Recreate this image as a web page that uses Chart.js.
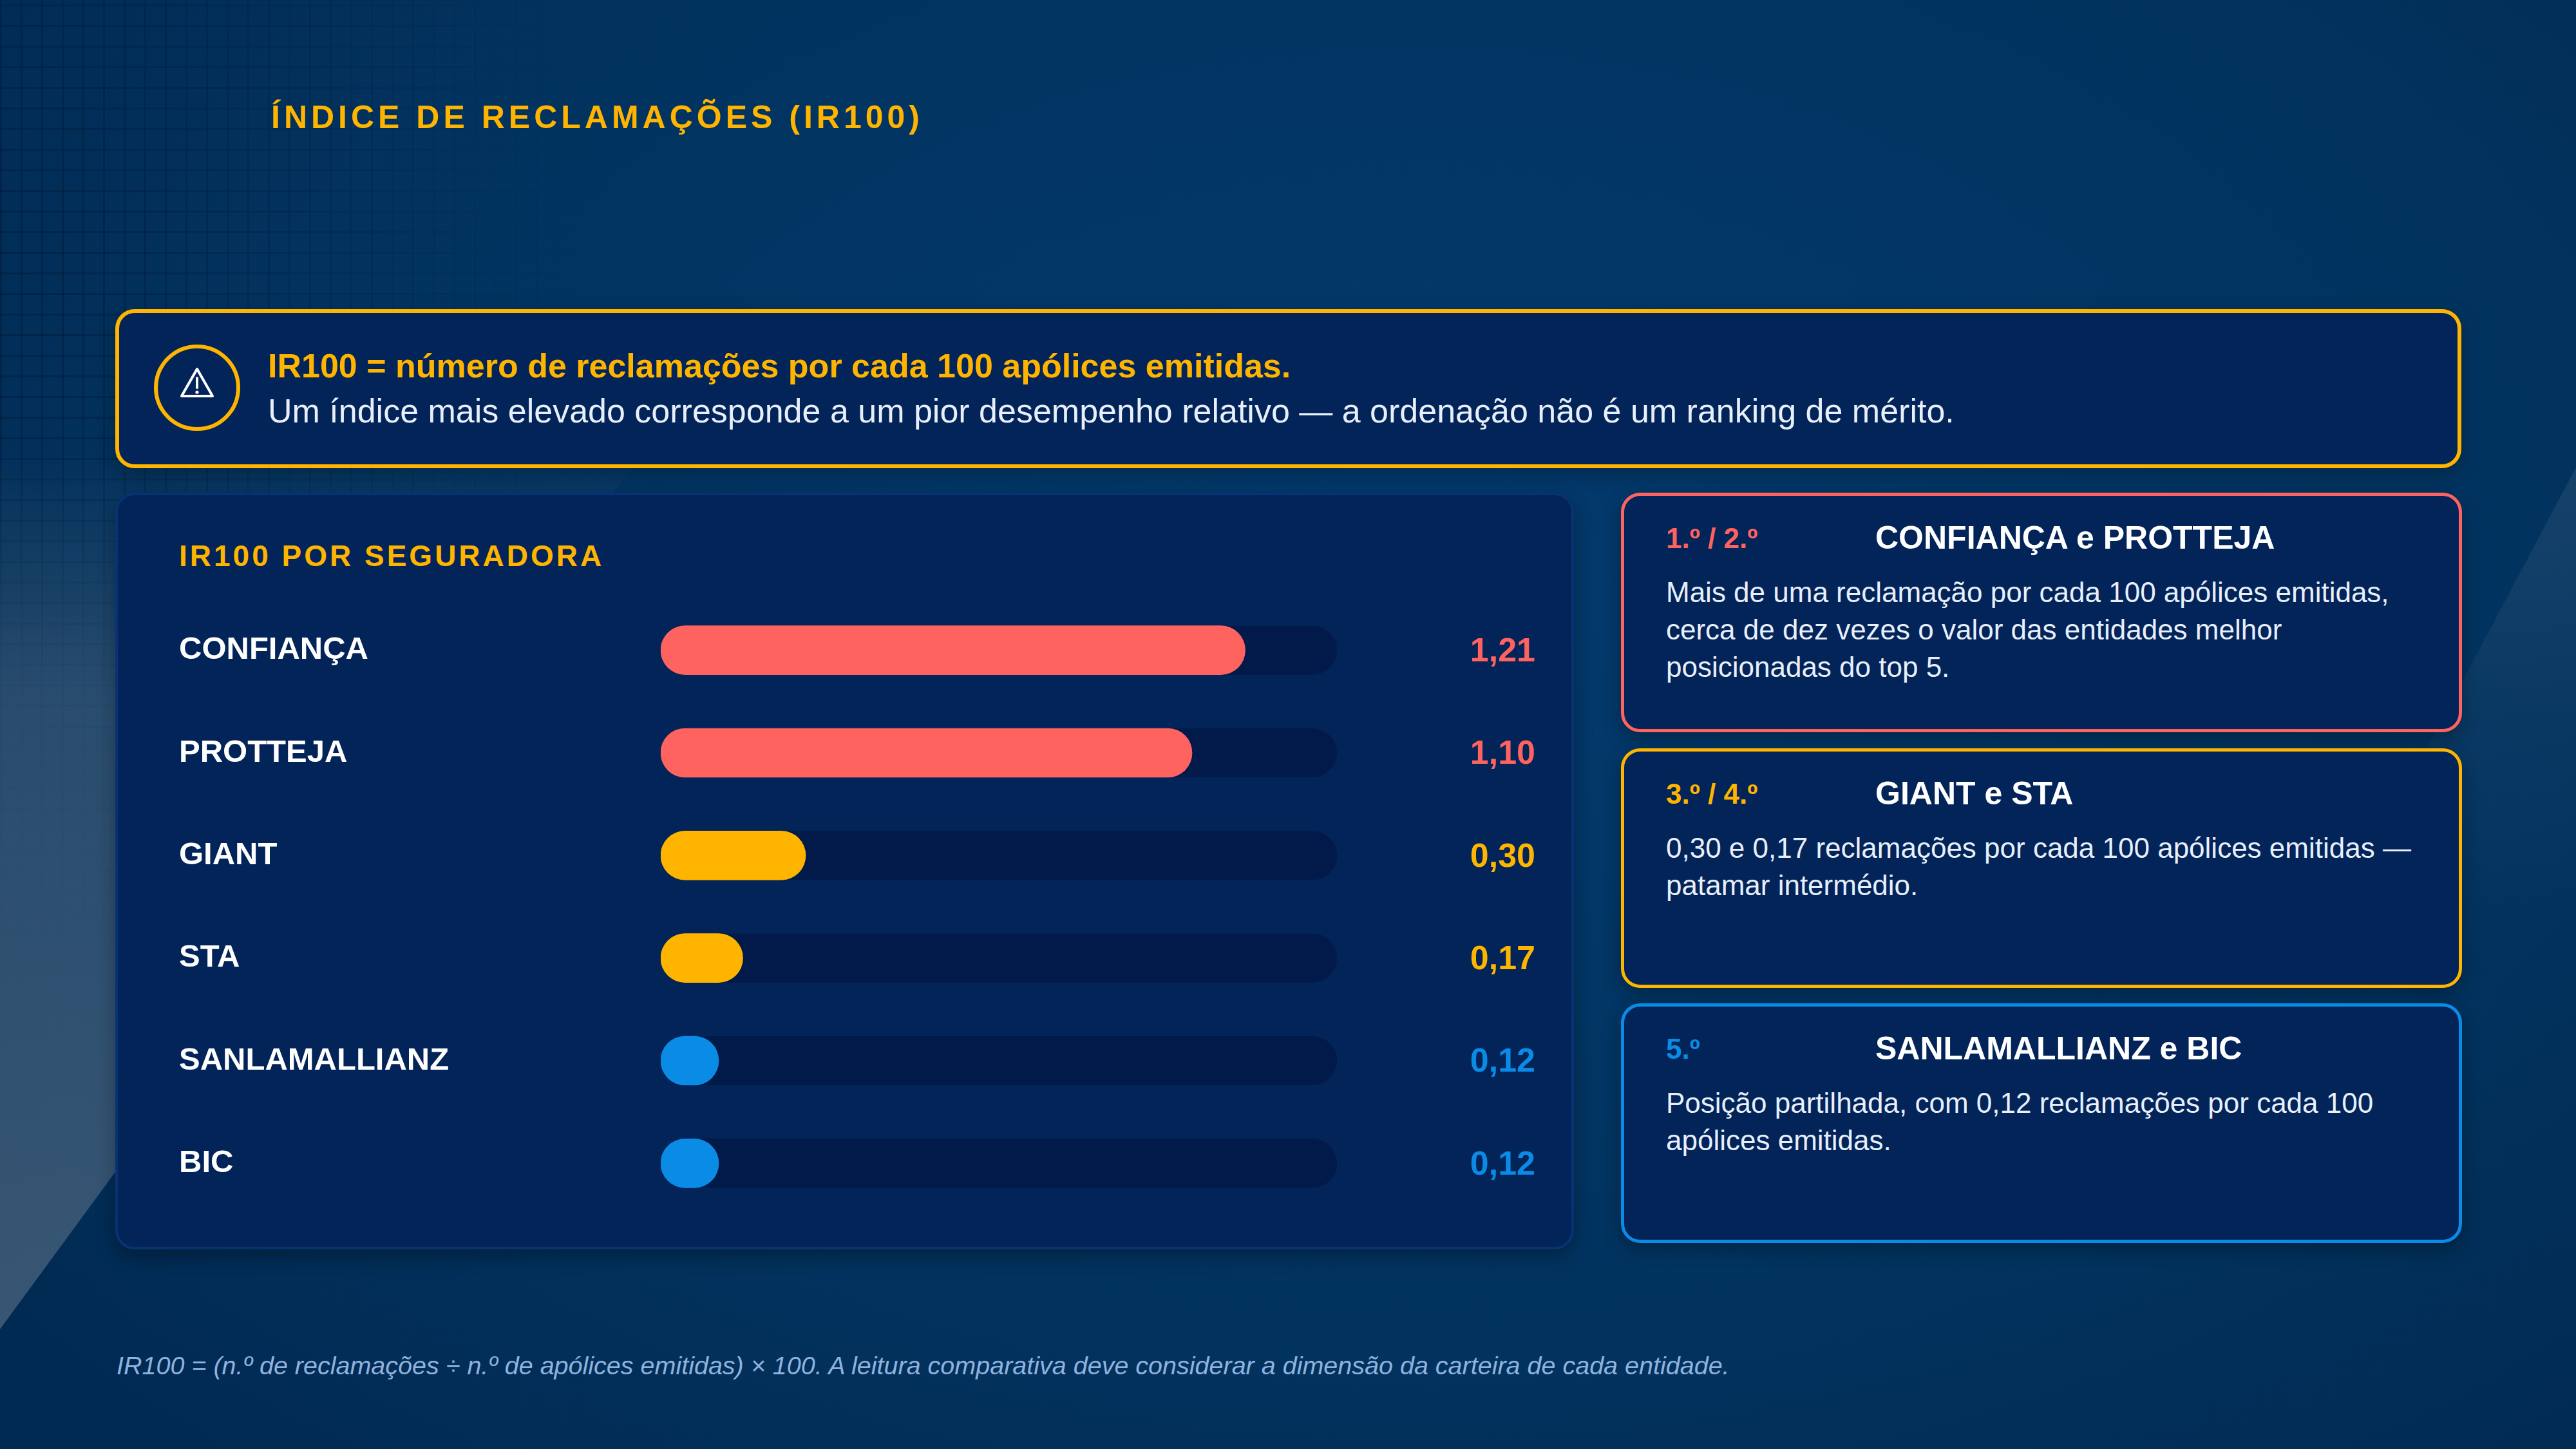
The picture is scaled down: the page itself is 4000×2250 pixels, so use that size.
<!DOCTYPE html>
<html>
<head>
<meta charset="utf-8">
<script src="https://cdn.jsdelivr.net/npm/chart.js@4"></script>
<style>
  html, body { margin: 0; padding: 0; }
  body {
    width: 4000px; height: 2250px; overflow: hidden; position: relative;
    font-family: "Liberation Sans", Arial, sans-serif;
    background: radial-gradient(ellipse 70% 80% at 55% 40%, #033a6d 0%, #02335f 65%, #012a52 100%);
  }
  .grid {
    position: absolute; left: 0; top: 0; width: 2000px; height: 2250px;
    background-image:
      repeating-linear-gradient(90deg, rgba(0,18,45,0.35) 0 3px, transparent 3px 32px),
      repeating-linear-gradient(0deg, rgba(0,18,45,0.35) 0 3px, transparent 3px 32px);
    -webkit-mask-image: radial-gradient(ellipse 45% 55% at 0% 20%, #000 0%, rgba(0,0,0,0.5) 50%, transparent 100%);
    mask-image: radial-gradient(ellipse 45% 55% at 0% 20%, #000 0%, rgba(0,0,0,0.5) 50%, transparent 100%);
  }
  .wedgeL {
    position: absolute; left: 0; top: 700px; width: 1000px; height: 1364px;
    clip-path: polygon(0 100%, 100% 0, 0 0);
    background: linear-gradient(180deg, rgba(80,105,130,0) 0%, rgba(80,105,130,0.5) 28%, rgba(80,105,130,0.7) 100%);
  }
  .wedgeR {
    position: absolute; left: 3500px; top: 726px; width: 500px; height: 800px;
    clip-path: polygon(100% 0, 15% 100%, 100% 100%);
    background: linear-gradient(180deg, rgba(70,100,130,0.3) 0%, rgba(70,100,130,0.1) 50%, rgba(70,100,130,0) 90%);
  }
  .title {
    position: absolute; left: 421px; top: 152px; line-height: 60px;
    font-size: 50px; font-weight: bold; letter-spacing: 6px; color: #ffb400;
  }
  .alert {
    position: absolute; left: 179px; top: 480px; width: 3643px; height: 247px;
    box-sizing: border-box; border: 6px solid #ffb400; border-radius: 30px;
    background: #022459; box-shadow: 0 10px 30px rgba(0,0,0,0.25);
  }
  .alert .icon {
    position: absolute; left: 54px; top: 49px; width: 134px; height: 134px;
    box-sizing: border-box; border: 6px solid #ffb400; border-radius: 50%;
  }
  .alert .icon svg { position: absolute; left: 34px; top: 28px; }
  .alert .l1 {
    position: absolute; left: 231px; top: 52px; line-height: 60px;
    font-size: 52px; font-weight: bold; color: #ffb400;
  }
  .alert .l2 {
    position: absolute; left: 231px; top: 122px; line-height: 60px;
    font-size: 52px; color: #e8effa;
  }
  .panel {
    position: absolute; left: 179px; top: 765px; width: 2265px; height: 1175px;
    box-sizing: border-box; border: 4px solid #083372; border-radius: 30px;
    background: #022459; box-shadow: 0 12px 30px rgba(0,0,0,0.3);
  }
  .panel .ptitle {
    position: absolute; left: 95px; top: 66px; line-height: 56px;
    font-size: 46px; font-weight: bold; letter-spacing: 4px; color: #ffb400;
  }
  #chartBox { position: absolute; left: 179px; top: 765px; width: 2265px; height: 1175px; }
  .card {
    position: absolute; left: 2517px; width: 1306px; height: 372px;
    box-sizing: border-box; border: 5px solid; border-radius: 30px;
    background: #022459; box-shadow: 0 10px 28px rgba(0,0,0,0.3);
  }
  .card .rank {
    position: absolute; left: 65px; top: 38px; line-height: 56px;
    font-size: 44px; font-weight: bold;
  }
  .card .name {
    position: absolute; left: 390px; top: 37px; line-height: 56px;
    font-size: 50px; font-weight: bold; color: #ffffff;
  }
  .card .body {
    position: absolute; left: 65px; top: 121px; width: 1220px; line-height: 58px;
    font-size: 44px; color: #e8effa;
  }
  .footer {
    position: absolute; left: 181px; top: 2098px; line-height: 44px;
    font-size: 39.5px; font-style: italic; color: #8fb2de;
  }
</style>
</head>
<body>
<div class="grid"></div>
<div class="wedgeL"></div>
<div class="wedgeR"></div>

<div class="title">ÍNDICE DE RECLAMAÇÕES (IR100)</div>

<div class="alert">
  <div class="icon">
    <svg width="54" height="50" viewBox="0 0 54 50">
      <path d="M27 4 L51 46 L3 46 Z" fill="none" stroke="#ffffff" stroke-width="4" stroke-linejoin="round"/>
      <line x1="27" y1="18" x2="27" y2="33" stroke="#ffffff" stroke-width="4" stroke-linecap="round"/>
      <circle cx="27" cy="40" r="2.6" fill="#ffffff"/>
    </svg>
  </div>
  <div class="l1">IR100 = número de reclamações por cada 100 apólices emitidas.</div>
  <div class="l2">Um índice mais elevado corresponde a um pior desempenho relativo — a ordenação não é um ranking de mérito.</div>
</div>

<div class="panel">
  <div class="ptitle">IR100 POR SEGURADORA</div>
</div>
<div id="chartBox"><canvas id="irChart"></canvas></div>

<div class="card" style="top:765px; border-color:#ff6360;">
  <div class="rank" style="color:#ff6360;">1.º / 2.º</div>
  <div class="name">CONFIANÇA e PROTTEJA</div>
  <div class="body">Mais de uma reclamação por cada 100 apólices emitidas,<br>cerca de dez vezes o valor das entidades melhor<br>posicionadas do top 5.</div>
</div>
<div class="card" style="top:1162px; border-color:#ffb400;">
  <div class="rank" style="color:#ffb400;">3.º / 4.º</div>
  <div class="name">GIANT e STA</div>
  <div class="body">0,30 e 0,17 reclamações por cada 100 apólices emitidas —<br>patamar intermédio.</div>
</div>
<div class="card" style="top:1558px; border-color:#0a8ce6;">
  <div class="rank" style="color:#0a8ce6;">5.º</div>
  <div class="name">SANLAMALLIANZ e BIC</div>
  <div class="body">Posição partilhada, com 0,12 reclamações por cada 100<br>apólices emitidas.</div>
</div>

<div class="footer">IR100 = (n.º de reclamações ÷ n.º de apólices emitidas) × 100. A leitura comparativa deve considerar a dimensão da carteira de cada entidade.</div>

<script>
const insurers = ['CONFIANÇA', 'PROTTEJA', 'GIANT', 'STA', 'SANLAMALLIANZ', 'BIC'];
const ir100 = [1.21, 1.10, 0.30, 0.17, 0.12, 0.12];
const valueLabels = ['1,21', '1,10', '0,30', '0,17', '0,12', '0,12'];
const axisMax = 1.4;

const red = '#ff6360', gold = '#ffb400', blue = '#0a8ce6';
const barColors = [red, red, gold, gold, blue, blue];

// dark track behind each bar
const trackPlugin = {
  id: 'track',
  beforeDatasetsDraw(chart) {
    const { ctx, chartArea } = chart;
    const bars = chart.getDatasetMeta(0).data;
    ctx.save();
    ctx.fillStyle = '#011a4a';
    bars.forEach(bar => {
      ctx.beginPath();
      ctx.roundRect(chartArea.left, bar.y - bar.height / 2, chartArea.right - chartArea.left, bar.height, bar.height / 2);
      ctx.fill();
    });
    ctx.restore();
  }
};

// value text at the right of each track
const valuePlugin = {
  id: 'values',
  afterDatasetsDraw(chart) {
    const { ctx, chartArea } = chart;
    const bars = chart.getDatasetMeta(0).data;
    ctx.save();
    ctx.font = 'bold 52px "Liberation Sans", Arial, sans-serif';
    ctx.textAlign = 'right';
    ctx.textBaseline = 'middle';
    bars.forEach((bar, i) => {
      ctx.fillStyle = barColors[i];
      ctx.fillText(valueLabels[i], chartArea.right + 308, bar.y + 3);
    });
    ctx.restore();
  }
};

new Chart(document.getElementById('irChart'), {
  type: 'bar',
  data: {
    labels: insurers,
    datasets: [{
      label: 'IR100',
      data: ir100,
      backgroundColor: barColors,
      borderRadius: 40,
      borderSkipped: false,
      barThickness: 76
    }]
  },
  options: {
    indexAxis: 'y',
    responsive: true,
    maintainAspectRatio: false,
    devicePixelRatio: 1,
    animation: false,
    layout: { padding: { left: 99, right: 368, top: 165, bottom: 54 } },
    plugins: { legend: { display: false }, tooltip: { enabled: false } },
    scales: {
      x: { display: false, min: 0, max: axisMax },
      y: {
        grid: { display: false },
        border: { display: false },
        afterFit(scale) { scale.width = 748; },
        ticks: {
          crossAlign: 'far',
          color: '#ffffff',
          padding: 0,
          font: { family: '"Liberation Sans", Arial, sans-serif', size: 49, weight: 'bold' }
        }
      }
    }
  },
  plugins: [trackPlugin, valuePlugin]
});
</script>
</body>
</html>
